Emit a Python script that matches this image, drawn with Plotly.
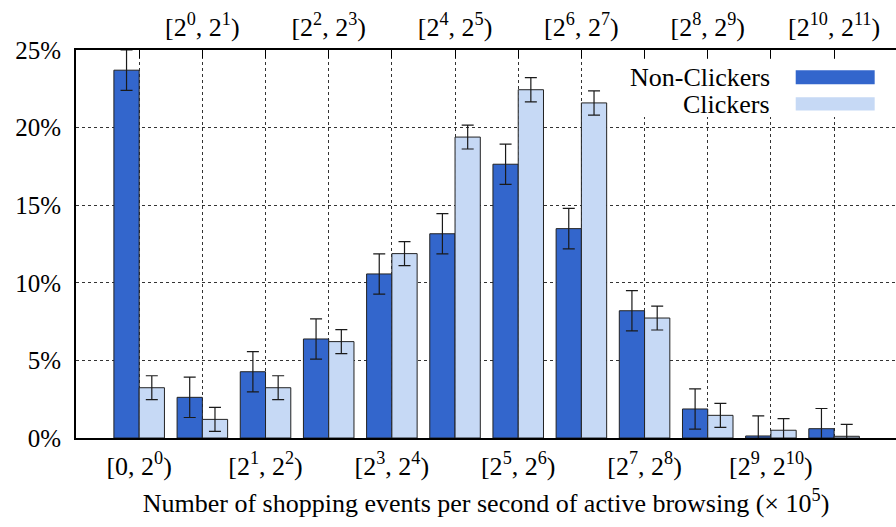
import plotly.graph_objects as go

categories = ["[0, 2<sup>0</sup>)", "[2<sup>0</sup>, 2<sup>1</sup>)", "[2<sup>1</sup>, 2<sup>2</sup>)",
              "[2<sup>2</sup>, 2<sup>3</sup>)", "[2<sup>3</sup>, 2<sup>4</sup>)", "[2<sup>4</sup>, 2<sup>5</sup>)",
              "[2<sup>5</sup>, 2<sup>6</sup>)", "[2<sup>6</sup>, 2<sup>7</sup>)", "[2<sup>7</sup>, 2<sup>8</sup>)",
              "[2<sup>8</sup>, 2<sup>9</sup>)", "[2<sup>9</sup>, 2<sup>10</sup>)", "[2<sup>10</sup>, 2<sup>11</sup>)"]
non_clickers = [23.7, 2.62, 4.27, 6.38, 10.57, 13.16, 17.64, 13.49, 8.2, 1.87, 0.13, 0.6]
non_clickers_err = [1.3, 1.3, 1.3, 1.3, 1.3, 1.3, 1.3, 1.3, 1.3, 1.3, 1.3, 1.3]
clickers = [3.24, 1.2, 3.24, 6.21, 11.88, 19.39, 22.44, 21.59, 7.73, 1.46, 0.5, 0.11]
clickers_err = [0.77, 0.77, 0.77, 0.77, 0.77, 0.77, 0.78, 0.78, 0.77, 0.77, 0.75, 0.77]
y_ticks = [0, 5, 10, 15, 20, 25]
y_tick_text = ["0%", "5%", "10%", "15%", "20%", "25%"]

idx = list(range(len(categories)))
bottom_text = [c if i % 2 == 0 else "" for i, c in enumerate(categories)]
top_text = [c if i % 2 == 1 else "" for i, c in enumerate(categories)]

DARK = "#3366CC"
LIGHT = "#C6D9F5"
FONT = "Liberation Serif, Times New Roman, serif"

def f(size):
    return dict(family=FONT, size=size, color="black")

fig = go.Figure()
fig.add_trace(go.Bar(
    x=idx, y=non_clickers, name="Non-Clickers", marker=dict(color=DARK, line=dict(color="#222222", width=1)),
    error_y=dict(type="data", array=non_clickers_err, color="#1a1a1a", thickness=1.2, width=6),
    showlegend=False))
fig.add_trace(go.Bar(
    x=idx, y=clickers, name="Clickers", marker=dict(color=LIGHT, line=dict(color="#222222", width=1)),
    error_y=dict(type="data", array=clickers_err, color="#1a1a1a", thickness=1.2, width=6),
    showlegend=False))
# invisible trace to anchor the top axis
fig.add_trace(go.Scatter(x=idx, y=[None] * len(idx), xaxis="x2", showlegend=False, hoverinfo="skip"))

fig.update_layout(
    width=896, height=527,
    margin=dict(l=76, r=0, t=50, b=89),
    paper_bgcolor="white", plot_bgcolor="white",
    font=f(26),
    barmode="group", bargap=0.2, bargroupgap=0,
    xaxis=dict(range=[-1, 11.98], tickmode="array", tickvals=idx, ticktext=bottom_text,
               showgrid=True, griddash="dot", gridcolor="#333333", gridwidth=1,
               showline=True, linecolor="black", linewidth=2, ticks="", zeroline=False,
               title=dict(text="Number of shopping events per second of active browsing (× 10<sup>5</sup>)",
                          font=f(26), standoff=14),
               tickfont=f(26), ticklabelstandoff=4),
    xaxis2=dict(range=[-1, 11.98], overlaying="x", side="top", tickmode="array", tickvals=idx,
                ticktext=top_text, showgrid=False, showline=True, linecolor="black", linewidth=2,
                ticks="inside", ticklen=8, tickcolor="black", tickwidth=1, zeroline=False,
                tickfont=f(26), ticklabelstandoff=2),
    yaxis=dict(range=[0, 25], tickmode="array", tickvals=y_ticks, ticktext=y_tick_text,
               showgrid=True, griddash="dot", gridcolor="#333333", gridwidth=1,
               showline=True, linecolor="black", linewidth=2, zeroline=False, ticks="",
               tickfont=f(25), ticklabelstandoff=8),
)

# custom legend (text left of swatch) on a white box hiding the grid
fig.add_shape(type="rect", xref="paper", yref="paper", x0=0.6695, x1=0.9805, y0=0.827, y1=0.975,
              fillcolor="white", line=dict(width=0), layer="above")
legend_items = [("Non-Clickers", DARK, 0.930, 0.948, 0.912), ("Clickers", LIGHT, 0.861, 0.878, 0.844)]
for label, col, ty, y1, y0 in legend_items:
    fig.add_annotation(xref="paper", yref="paper", x=0.8476, y=ty, text=label, showarrow=False,
                       xanchor="right", yanchor="middle", font=f(26), height=26, borderpad=0)
    fig.add_shape(type="rect", xref="paper", yref="paper", x0=0.8777, x1=0.974, y0=y0, y1=y1,
                  fillcolor=col, line=dict(width=0), layer="above")

fig.write_html("out.html")
